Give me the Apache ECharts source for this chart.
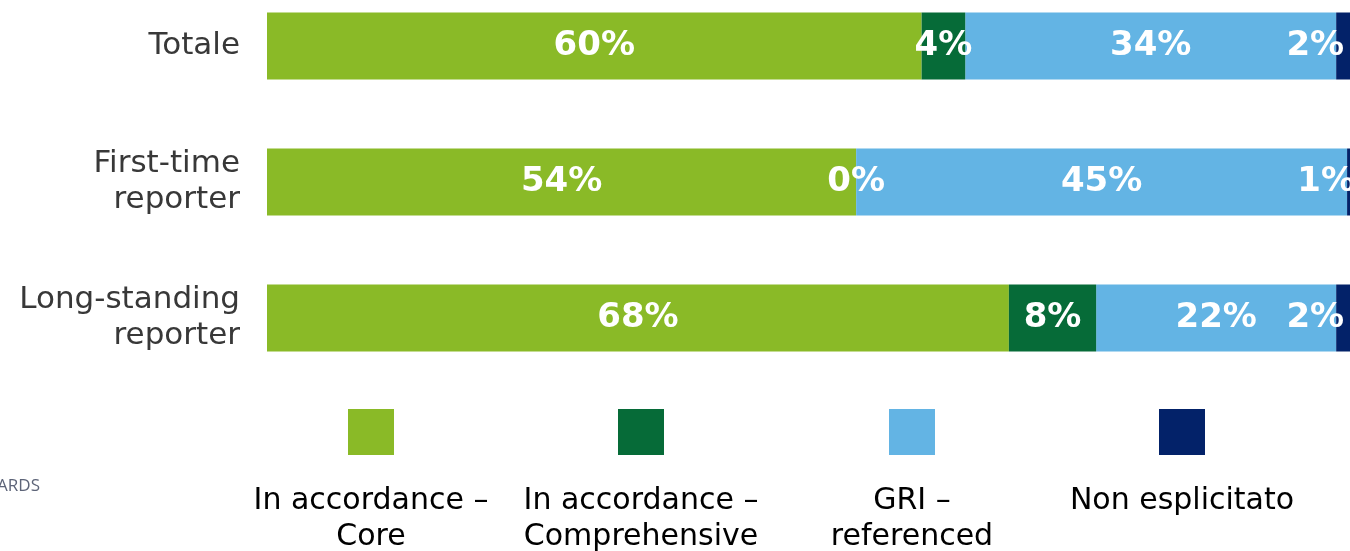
<!DOCTYPE html>
<html>
<head>
<meta charset="utf-8">
<script src="https://cdn.jsdelivr.net/npm/echarts@6/dist/echarts.min.js"></script>
<style>
html,body{margin:0;padding:0;background:#fff;}
#chart{width:1350px;height:551px;}
</style>
</head>
<body>
<div id="chart"></div>
<script>
const categories = ['Totale', 'First-time\nreporter', 'Long-standing\nreporter'];
const seriesNames = ['In accordance –\nCore', 'In accordance –\nComprehensive', 'GRI –\nreferenced', 'Non esplicitato'];
const core = [60, 54, 68];
const comprehensive = [4, 0, 8];
const referenced = [34, 45, 22];
const nonEsplicitato = [2, 1, 2];

const colors = ['#8aba27', '#066b38', '#63b4e4', '#032269'];
const values = [core, comprehensive, referenced, nonEsplicitato];
const FONT = 'DejaVu Sans';

const chart = echarts.init(document.getElementById('chart'), null, {renderer: 'canvas'});

const series = seriesNames.map((name, i) => ({
  name: name,
  type: 'bar',
  stack: 'total',
  barWidth: 67,
  z: i === 1 ? 3 : 2,
  data: values[i],
  itemStyle: {color: colors[i]},
  emphasis: {disabled: true},
  label: {
    show: true,
    position: i === 3 ? 'left' : 'inside',
    distance: i === 3 ? -8 : 5,
    formatter: p => p.value + '%',
    color: '#ffffff',
    fontFamily: FONT,
    fontWeight: 'bold',
    fontSize: 34
  }
}));

const legendX = [348, 618, 889, 1159];
const legends = seriesNames.map((name, i) => ({
  data: [{name: name, icon: 'rect'}],
  left: legendX[i],
  top: 409,
  itemWidth: 46,
  itemHeight: 46,
  itemGap: 0,
  padding: 0,
  selectedMode: false,
  formatter: () => '',
  textStyle: {fontSize: 1}
}));

const graphics = seriesNames.map((name, i) => ({
  type: 'text',
  x: legendX[i] + 23,
  y: 483,
  style: {
    text: name,
    fill: '#000000',
    font: '30px "' + FONT + '"',
    textAlign: 'center',
    textVerticalAlign: 'top',
    lineHeight: 36
  }
}));
graphics.push({
  type: 'text',
  x: 40,
  y: 478,
  style: {
    text: 'STANDARDS',
    fill: '#5d6478',
    font: '17px "Open Sans"',
    textAlign: 'right',
    textVerticalAlign: 'top'
  }
});

chart.setOption({
  animation: false,
  color: colors,
  grid: {left: 267, top: -22, width: 1091, height: 408, containLabel: false, outerBoundsMode: 'none'},
  xAxis: {
    type: 'value',
    min: 0,
    max: 100,
    show: false
  },
  yAxis: {
    type: 'category',
    data: categories,
    inverse: true,
    axisLine: {show: false},
    axisTick: {show: false},
    splitLine: {show: false},
    axisLabel: {
      margin: 27,
      fontFamily: FONT,
      fontSize: 31,
      lineHeight: 36,
      color: '#383838',
      align: 'right'
    }
  },
  legend: legends,
  graphic: graphics,
  series: series
});
</script>
</body>
</html>
